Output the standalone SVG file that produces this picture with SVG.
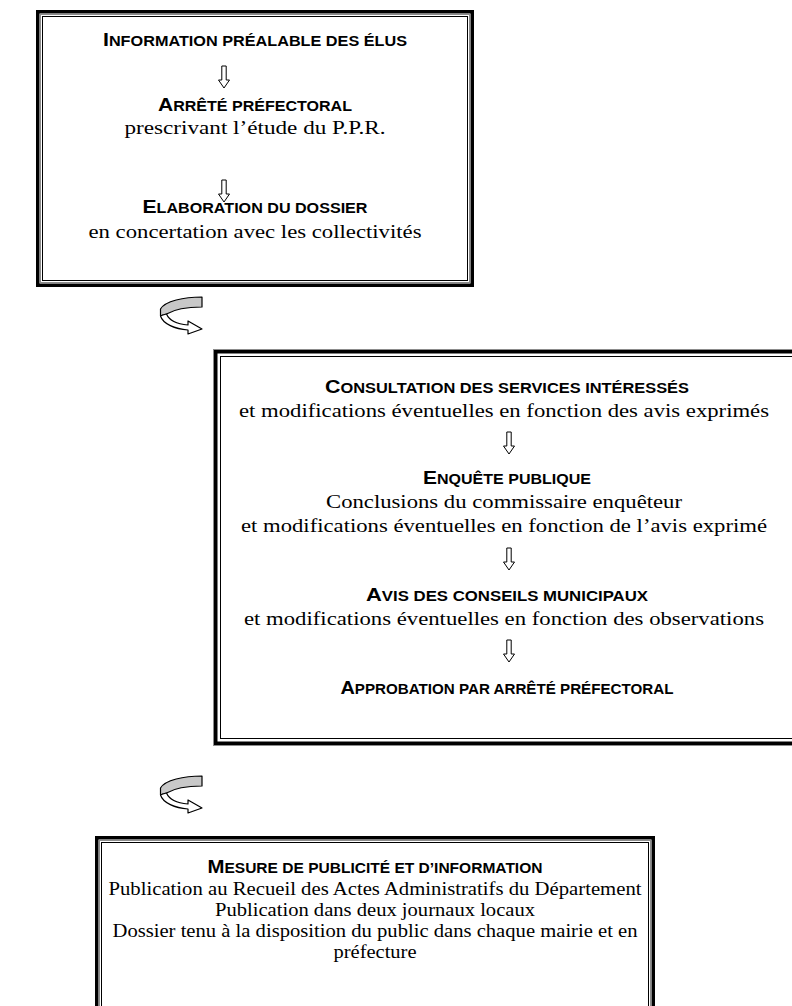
<svg xmlns="http://www.w3.org/2000/svg" width="792" height="1006" viewBox="0 0 792 1006">
<style>
.thick{fill:none;stroke:#000;stroke-width:3.5}
.gray{fill:none;stroke:#8c8c8c;stroke-width:1}
.thin{fill:none;stroke:#000;stroke-width:1}
.h{font-family:"Liberation Sans Narrow","Arial Narrow","Liberation Sans",Arial,sans-serif;font-weight:bold;text-anchor:middle;fill:#000}
.cap{font-size:19px}
.sc{font-size:14.5px}
.b{font-family:"Liberation Serif","Times New Roman",serif;text-anchor:middle;fill:#000;font-size:19.5px}
.b3{font-family:"Liberation Serif","Times New Roman",serif;text-anchor:middle;fill:#000;font-size:18px}
.darr{fill:#fff;stroke:#000;stroke-width:1;stroke-linejoin:miter}
.cg{fill:#c8c8c8;stroke:#000;stroke-width:1.2;stroke-linejoin:round}
.cw{fill:#fff;stroke:#000;stroke-width:1.2;stroke-linejoin:round}
</style>
<defs>
<path id="down" class="darr" d="M-2.2,0 L2.2,0 L2.2,14 L5.5,14 L0,22 L-5.5,14 L-2.2,14 Z"/>
<g id="curl">
<path class="cg" d="M42,1 C24,1 5,5 0.5,13 L0.5,20 C2,19 4,18.5 6.5,18 C14,13.5 28,11 42,11 Z"/>
<path class="cw" d="M0.5,20 C3,28 15,33 28,34 L28,38 L42,33 L28,25 L28,29 C17,28 9,24 6.5,18 C4,18.5 2,19 0.5,20 Z"/>
</g>
</defs>

<g id="box1">
<rect class="thick" x="37.75" y="11.75" width="434.5" height="273.5"/>
<rect class="gray" x="40.5" y="14.5" width="429" height="268"/>
<rect class="thin" x="42.5" y="16.5" width="425" height="264"/>
<text class="h" x="255" y="46" textLength="304" lengthAdjust="spacingAndGlyphs"><tspan class="cap">I</tspan><tspan class="sc">NFORMATION PRÉALABLE DES ÉLUS</tspan></text>
<use href="#down" x="224" y="66"/>
<text class="h" x="255" y="111" textLength="194" lengthAdjust="spacingAndGlyphs"><tspan class="cap">A</tspan><tspan class="sc">RRÊTÉ PRÉFECTORAL</tspan></text>
<text class="b" x="255" y="134" textLength="261" lengthAdjust="spacingAndGlyphs">prescrivant l’étude du P.P.R.</text>
<use href="#down" x="224" y="180"/>
<text class="h" x="255" y="213" textLength="225" lengthAdjust="spacingAndGlyphs"><tspan class="cap">E</tspan><tspan class="sc">LABORATION DU DOSSIER</tspan></text>
<text class="b" x="255" y="238" textLength="333" lengthAdjust="spacingAndGlyphs">en concertation avec les collectivités</text>
</g>

<g id="box2">
<rect class="gray" x="213.5" y="349.5" width="600" height="396"/>
<rect class="thick" x="215.75" y="351.75" width="600" height="391.5"/>
<rect class="thin" x="220.5" y="356.5" width="600" height="382"/>
<text class="h" x="507" y="393" textLength="364" lengthAdjust="spacingAndGlyphs"><tspan class="cap">C</tspan><tspan class="sc">ONSULTATION DES SERVICES INTÉRESSÉS</tspan></text>
<text class="b" x="504" y="417" textLength="530" lengthAdjust="spacingAndGlyphs">et modifications éventuelles en fonction des avis exprimés</text>
<use href="#down" x="509" y="432"/>
<text class="h" x="507" y="484" textLength="168" lengthAdjust="spacingAndGlyphs"><tspan class="cap">E</tspan><tspan class="sc">NQUÊTE PUBLIQUE</tspan></text>
<text class="b" x="504" y="508" textLength="356" lengthAdjust="spacingAndGlyphs">Conclusions du commissaire enquêteur</text>
<text class="b" x="504" y="532" textLength="526" lengthAdjust="spacingAndGlyphs">et modifications éventuelles en fonction de l’avis exprimé</text>
<use href="#down" x="509" y="548"/>
<text class="h" x="507" y="601" textLength="282" lengthAdjust="spacingAndGlyphs"><tspan class="cap">A</tspan><tspan class="sc">VIS DES CONSEILS MUNICIPAUX</tspan></text>
<text class="b" x="504" y="625" textLength="520" lengthAdjust="spacingAndGlyphs">et modifications éventuelles en fonction des observations</text>
<use href="#down" x="509" y="640"/>
<text class="h" x="507" y="694" textLength="333" lengthAdjust="spacingAndGlyphs"><tspan class="cap">A</tspan><tspan class="sc">PPROBATION PAR ARRÊTÉ PRÉFECTORAL</tspan></text>
</g>

<g id="box3">
<rect class="thick" x="96.75" y="837.75" width="556.5" height="200"/>
<rect class="gray" x="99.5" y="840.5" width="551" height="200"/>
<rect class="thin" x="101.5" y="842.5" width="547" height="200"/>
<text class="h" x="375" y="873" textLength="335" lengthAdjust="spacingAndGlyphs"><tspan class="cap">M</tspan><tspan class="sc">ESURE DE PUBLICITÉ ET D’INFORMATION</tspan></text>
<text class="b3" x="375" y="895" textLength="533" lengthAdjust="spacingAndGlyphs">Publication au Recueil des Actes Administratifs du Département</text>
<text class="b3" x="375" y="916" textLength="320" lengthAdjust="spacingAndGlyphs">Publication dans deux journaux locaux</text>
<text class="b3" x="375" y="937" textLength="525" lengthAdjust="spacingAndGlyphs">Dossier tenu à la disposition du public dans chaque mairie et en</text>
<text class="b3" x="375" y="958" textLength="83" lengthAdjust="spacingAndGlyphs">préfecture</text>
</g>

<g id="connectors">
<use href="#curl" x="160" y="296"/>
<use href="#curl" x="160" y="775"/>
</g>
</svg>
